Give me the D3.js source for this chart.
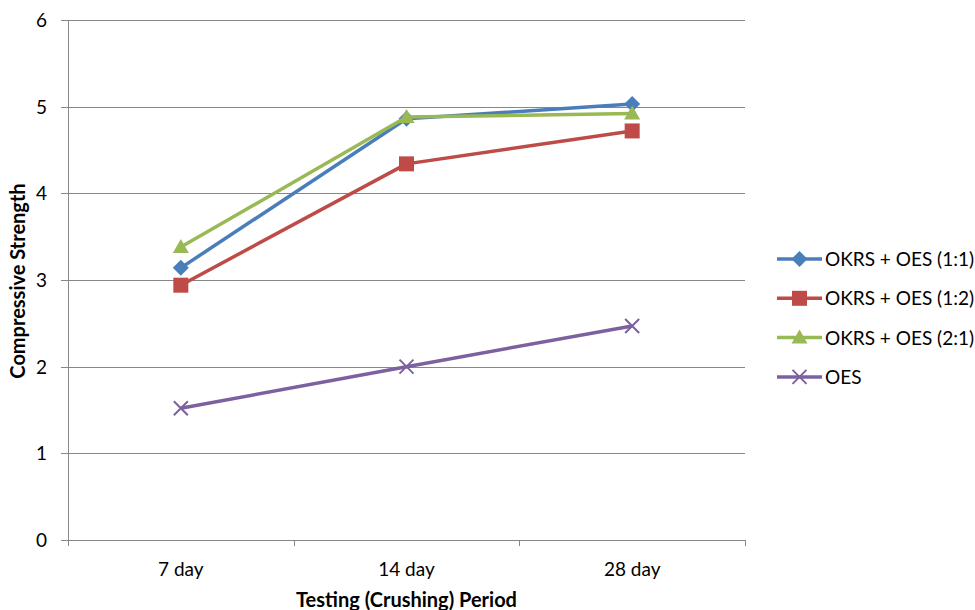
<!DOCTYPE html>
<html>
<head>
<meta charset="utf-8">
<script src="https://cdn.jsdelivr.net/npm/d3@7"></script>
<style>
body { margin: 0; background: #fff; }
svg text { font-family: Lato, "Open Sans", sans-serif; fill: #000; }
</style>
</head>
<body>
<svg id="chart" width="975" height="610"></svg>
<script>
var periods = ['7 day', '14 day', '28 day']
var yTicks = [0, 1, 2, 3, 4, 5, 6]
var seriesNames = ['OKRS + OES (1:1)', 'OKRS + OES (1:2)', 'OKRS + OES (2:1)', 'OES']
var ratio11 = [3.14, 4.86, 5.03]
var ratio12 = [2.94, 4.34, 4.72]
var ratio21 = [3.38, 4.88, 4.92]
var oesOnly = [1.52, 2.00, 2.47]

var colors = ['#4a7ebb', '#be4b48', '#98b954', '#7d60a0']
var symbols = ['diamond', 'square', 'triangle', 'cross']
var series = [ratio11, ratio12, ratio21, oesOnly].map(function(v, i) {
	return { name: seriesNames[i], values: v, color: colors[i], symbol: symbols[i] }
})

var svg = d3.select('#chart')
var plot = { left: 68, right: 745, top: 20, bottom: 540 }
var font_size = 19

var x = d3.scaleBand().domain(periods).range([plot.left, plot.right])
var y = d3.scaleLinear().domain([0, 6]).range([plot.bottom, plot.top])

// gridlines
svg.append('g')
	.selectAll('line')
	.data(yTicks)
	.enter().append('line')
	.attr('x1', plot.left - 7)
	.attr('x2', plot.right)
	.attr('y1', function(d) { return Math.round(y(d)) + 0.5 })
	.attr('y2', function(d) { return Math.round(y(d)) + 0.5 })
	.attr('stroke', '#878787')
	.attr('stroke-width', 1)

svg.append('g')
	.selectAll('text')
	.data(yTicks)
	.enter().append('text')
	.attr('x', 47)
	.attr('y', function(d) { return y(d) + 7 })
	.attr('text-anchor', 'end')
	.style('font-size', font_size + 'px')
	.text(function(d) { return d })

// axes lines
svg.append('line')
	.attr('x1', plot.left + 0.5).attr('x2', plot.left + 0.5)
	.attr('y1', plot.top).attr('y2', plot.bottom + 6)
	.attr('stroke', '#878787')

var xEdges = [plot.left].concat(periods.map(function(p) { return x(p) + x.bandwidth() }))
svg.append('g')
	.selectAll('line')
	.data(xEdges)
	.enter().append('line')
	.attr('x1', function(d) { return Math.round(d) + 0.5 })
	.attr('x2', function(d) { return Math.round(d) + 0.5 })
	.attr('y1', plot.bottom)
	.attr('y2', plot.bottom + 6)
	.attr('stroke', '#878787')

svg.append('g')
	.selectAll('text')
	.data(periods)
	.enter().append('text')
	.attr('x', function(d) { return x(d) + x.bandwidth() / 2 })
	.attr('y', 576)
	.attr('text-anchor', 'middle')
	.style('font-size', font_size + 'px')
	.text(function(d) { return d })

// axis titles, sized to the reference widths
function fitTitle(t, width) {
	var i = 24
	t.style('font-size', i + 'px')
	while (t.node().getBBox().width > width && i > 10) {
		i -= 0.5
		t.style('font-size', i + 'px')
	}
}

var xTitle = svg.append('text')
	.attr('x', x('14 day') + x.bandwidth() / 2)
	.attr('y', 607)
	.attr('text-anchor', 'middle')
	.style('font-weight', 700)
	.text('Testing (Crushing) Period')
fitTitle(xTitle, 226)

var yTitle = svg.append('text')
	.attr('transform', 'translate(25,281) rotate(-90)')
	.attr('text-anchor', 'middle')
	.style('font-weight', 700)
	.text('Compressive Strength')
fitTitle(yTitle, 198)

function marker(g, type, color) {
	if (type === 'diamond') {
		g.append('path').attr('d', 'M0,-8L8,0L0,8L-8,0Z')
			.attr('fill', color)
	} else if (type === 'square') {
		g.append('rect').attr('x', -7.5).attr('y', -7.5).attr('width', 15).attr('height', 15)
			.attr('fill', color)
	} else if (type === 'triangle') {
		g.append('path').attr('d', 'M0,-8L8,6L-8,6Z').attr('fill', color)
	} else {
		g.append('path').attr('d', 'M-7,-7L7,7M-7,7L7,-7')
			.attr('stroke', color).attr('stroke-width', 2).attr('fill', 'none')
	}
}

var line = d3.line()
	.x(function(d, i) { return x(periods[i]) + x.bandwidth() / 2 })
	.y(function(d) { return y(d) })

series.forEach(function(s) {
	var g = svg.append('g')
	g.append('path')
		.datum(s.values)
		.attr('d', line)
		.attr('fill', 'none')
		.attr('stroke', s.color)
		.attr('stroke-width', 3.5)
		.attr('stroke-linejoin', 'round')
	s.values.forEach(function(v, i) {
		var m = g.append('g')
			.attr('transform', 'translate(' + (x(periods[i]) + x.bandwidth() / 2) + ',' + y(v) + ')')
		marker(m, s.symbol, s.color)
	})
})

// legend
var legend = svg.append('g')
series.forEach(function(s, i) {
	var ly = 259 + i * 39.3
	legend.append('line')
		.attr('x1', 777).attr('x2', 822)
		.attr('y1', ly).attr('y2', ly)
		.attr('stroke', s.color).attr('stroke-width', 3.5)
	var m = legend.append('g').attr('transform', 'translate(799.5,' + ly + ')')
	marker(m, s.symbol, s.color)
	legend.append('text')
		.attr('x', 825)
		.attr('y', ly + 7)
		.style('font-size', font_size + 'px')
		.text(s.name)
})
</script>
</body>
</html>
